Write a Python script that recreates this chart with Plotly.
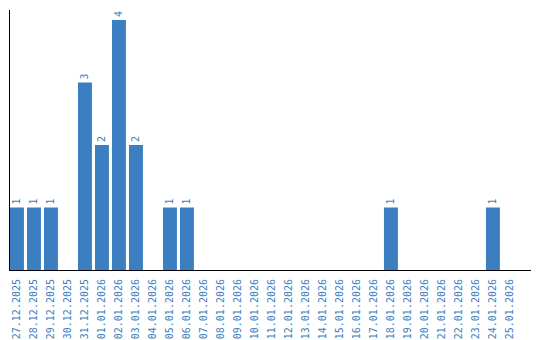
import plotly.graph_objects as go

dates = ["27.12.2025", "28.12.2025", "29.12.2025", "30.12.2025", "31.12.2025",
         "01.01.2026", "02.01.2026", "03.01.2026", "04.01.2026", "05.01.2026",
         "06.01.2026", "07.01.2026", "08.01.2026", "09.01.2026", "10.01.2026",
         "11.01.2026", "12.01.2026", "13.01.2026", "14.01.2026", "15.01.2026",
         "16.01.2026", "17.01.2026", "18.01.2026", "19.01.2026", "20.01.2026",
         "21.01.2026", "22.01.2026", "23.01.2026", "24.01.2026", "25.01.2026"]
counts = [1, 1, 1, 0, 3, 2, 4, 2, 0, 1, 1, 0, 0, 0, 0, 0, 0, 0, 0, 0, 0, 0,
          1, 0, 0, 0, 0, 0, 1, 0]

blue = "#3b7ec2"
labels = [str(v) if v > 0 else "" for v in counts]

fig = go.Figure(go.Bar(
    x=dates, y=counts, marker_color=blue, marker_line_width=0,
    text=labels, textposition="outside", textangle=-90,
    textfont=dict(family="DejaVu Sans Mono", size=10, color=blue),
    cliponaxis=False,
))
fig.update_layout(
    width=540, height=340,
    margin=dict(l=10, r=9, t=10, b=70, autoexpand=False),
    paper_bgcolor="white", plot_bgcolor="white",
    bargap=0.18, showlegend=False,
    font=dict(family="DejaVu Sans Mono", size=10, color=blue),
)
fig.update_xaxes(type="category", range=[-0.41, 30.24], showline=True,
                 linecolor="black", linewidth=1, tickangle=-90, ticks="",
                 ticklabelstandoff=4, automargin=False,
                 showgrid=False, tickfont=dict(family="DejaVu Sans Mono", size=10, color=blue))
fig.update_yaxes(range=[0, 4.16], showline=True, linecolor="black", linewidth=1,
                 showticklabels=False, ticks="", showgrid=False, zeroline=False,
                 automargin=False)
fig.write_html("out.html")
